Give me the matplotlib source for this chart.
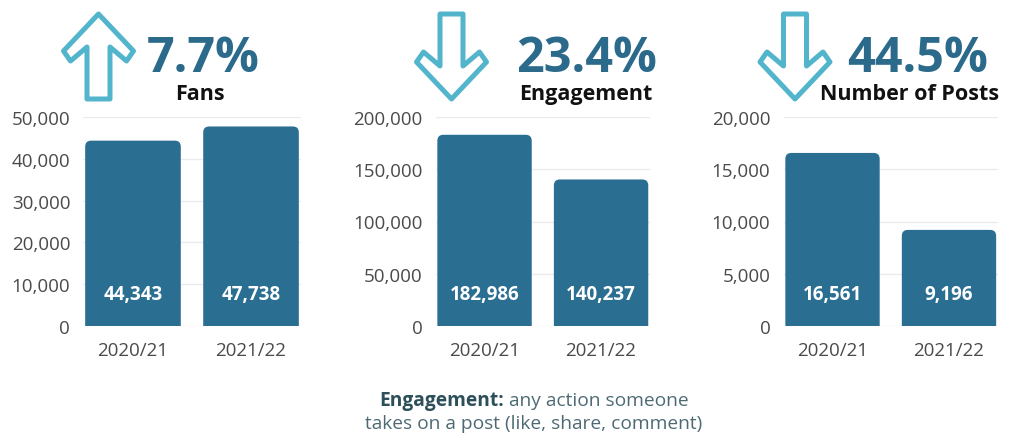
import matplotlib
matplotlib.use("Agg")
import matplotlib.pyplot as plt
from matplotlib.patches import FancyBboxPatch, Polygon
from matplotlib.ticker import FuncFormatter, MultipleLocator
import matplotlib.transforms as mtransforms

plt.rcParams['font.family'] = ['Open Sans', 'DejaVu Sans']

# ---------- Data ----------
seasons = ['2020/21', '2021/22']
fans = [44343, 47738]
engagement = [182986, 140237]
posts = [16561, 9196]

metric_names = ['Fans', 'Engagement', 'Number of Posts']
pct_changes = ['7.7%', '23.4%', '44.5%']
directions = ['up', 'down', 'down']
y_max = [50000, 200000, 20000]
y_step = [10000, 50000, 5000]

# ---------- Style ----------
BAR_COLOR = '#2a6e92'
PCT_COLOR = '#2b6a8b'
ARROW_COLOR = '#52b5cc'
TICK_COLOR = '#4a4a4a'
GRID_COLOR = '#ebebeb'

W, H = 1009, 439
fig = plt.figure(figsize=(W / 100, H / 100), dpi=100)

# axes boxes in pixels: left, right (top=118, bottom=327)
panel_px = [(83.4, 300.6), (435.6, 650.0), (783.6, 997.9)]
top_px, bottom_px = 118, 327
xlim = (-0.42, 1.42)


def rounded_bars(ax, values, ymax, ax_w_px, ax_h_px, r_px=6):
    bars = ax.bar(range(len(values)), values, width=0.81, color=BAR_COLOR)
    rx = r_px * (xlim[1] - xlim[0]) / ax_w_px
    ry = r_px * ymax / ax_h_px
    for b in bars:
        x, w, h = b.get_x(), b.get_width(), b.get_height()
        b.remove()
        patch = FancyBboxPatch((x, -ry), w, h + ry,
                               boxstyle=f"round,pad=0,rounding_size={rx}",
                               mutation_aspect=ry / rx,
                               facecolor=BAR_COLOR, edgecolor='none', zorder=3)
        ax.add_patch(patch)


series = [fans, engagement, posts]
for i, vals in enumerate(series):
    left, right = panel_px[i]
    ax = fig.add_axes([left / W, (H - bottom_px) / H,
                       (right - left) / W, (bottom_px - top_px) / H])
    ax.set_xlim(*xlim)
    ax.set_ylim(0, y_max[i])
    rounded_bars(ax, vals, y_max[i], right - left, bottom_px - top_px)

    ax.yaxis.set_major_locator(MultipleLocator(y_step[i]))
    ax.yaxis.set_major_formatter(FuncFormatter(lambda v, p: f'{int(v):,}'))
    ax.set_xticks(range(len(seasons)))
    ax.set_xticklabels(seasons)
    ax.tick_params(axis='both', length=0, labelsize=13.5, colors=TICK_COLOR)
    ax.tick_params(axis='y', pad=9.5)
    ax.tick_params(axis='x', pad=11)
    ax.grid(axis='y', color=GRID_COLOR, linewidth=1, zorder=0)
    ax.set_axisbelow(True)
    for s in ax.spines.values():
        s.set_visible(False)

    trans = mtransforms.blended_transform_factory(ax.transData, ax.transAxes)
    for j, v in enumerate(vals):
        ax.text(j, 0.153, f'{v:,}', transform=trans, ha='center', va='center',
                color='white', fontsize=13.5, fontweight='bold', zorder=4)

# ---------- Overlay: arrows, headlines, footnote ----------
ov = fig.add_axes([0, 0, 1, 1])
ov.set_xlim(0, W)
ov.set_ylim(H, 0)
ov.axis('off')

# arrow outline relative to tip (x offset, y offset from tip)
arrow_shape = [(0, 0), (-35, 37), (-28, 47), (-11.5, 33), (-11.5, 85),
               (11.5, 85), (11.5, 33), (28, 47), (35, 37)]
arrow_pos = [(98.5, 15), (451.5, 100), (795, 100)]
for (cx, ty), d in zip(arrow_pos, directions):
    sign = 1 if d == 'up' else -1
    pts = [(cx + dx, ty + sign * dy) for dx, dy in arrow_shape]
    ov.add_patch(Polygon(pts, closed=True, fill=False, edgecolor=ARROW_COLOR,
                         linewidth=3.6, joinstyle='round'))

pct_x = [203, 587, 918]
name_x = [200, 586, 910]
for i in range(3):
    ov.text(pct_x[i], 72, pct_changes[i], ha='center', va='baseline',
            fontsize=35, fontweight='bold', color=PCT_COLOR)
    ov.text(name_x[i], 100, metric_names[i], ha='center', va='baseline',
            fontsize=15.5, fontweight='bold', color='#111111')

# footnote with bold lead-in
renderer = fig.canvas.get_renderer()
t_bold = ov.text(0, 406, 'Engagement:', fontsize=13.8, fontweight='bold',
                 color='#2d4f5a', va='baseline', ha='left')
t_rest = ov.text(0, 406, ' any action someone', fontsize=13.8,
                 color='#4d6a74', va='baseline', ha='left')
wb = t_bold.get_window_extent(renderer).width
wr = t_rest.get_window_extent(renderer).width
x0 = 534 - (wb + wr) / 2
t_bold.set_x(x0)
t_rest.set_x(x0 + wb)
ov.text(534, 429, 'takes on a post (like, share, comment)', fontsize=13.8,
        color='#4d6a74', va='baseline', ha='center')

fig.savefig('out.png', dpi=100)
